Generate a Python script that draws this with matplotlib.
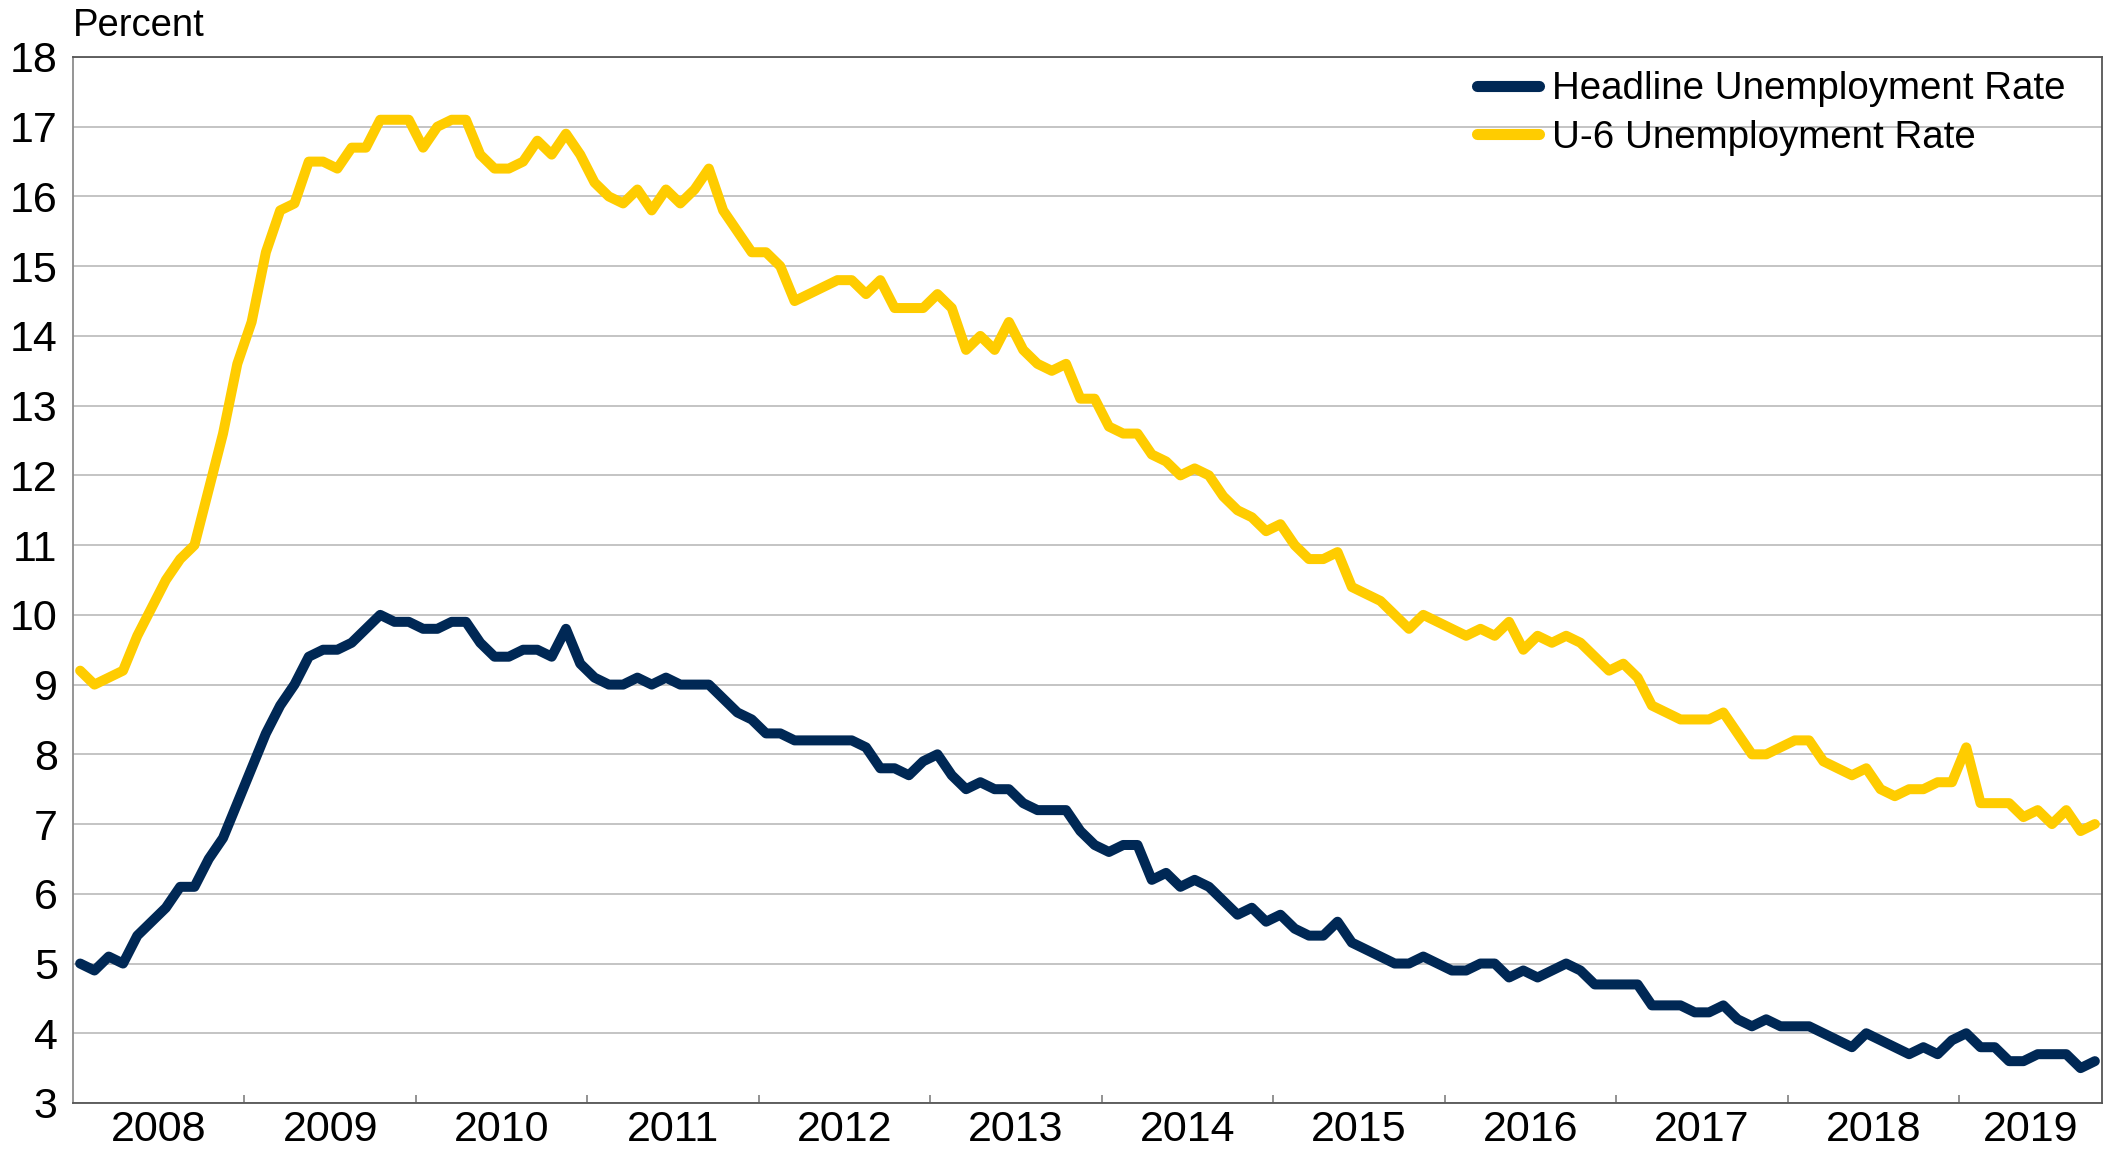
import numpy as np
import matplotlib.pyplot as plt

plt.rcParams['font.family'] = ['Liberation Sans', 'DejaVu Sans']

# Monthly rates, Jan 2008 - Oct 2019 (percent)
years = ['2008', '2009', '2010', '2011', '2012', '2013',
         '2014', '2015', '2016', '2017', '2018', '2019']

headline = [
    5.0, 4.9, 5.1, 5.0, 5.4, 5.6, 5.8, 6.1, 6.1, 6.5, 6.8, 7.3,   # 2008
    7.8, 8.3, 8.7, 9.0, 9.4, 9.5, 9.5, 9.6, 9.8, 10.0, 9.9, 9.9,  # 2009
    9.8, 9.8, 9.9, 9.9, 9.6, 9.4, 9.4, 9.5, 9.5, 9.4, 9.8, 9.3,   # 2010
    9.1, 9.0, 9.0, 9.1, 9.0, 9.1, 9.0, 9.0, 9.0, 8.8, 8.6, 8.5,   # 2011
    8.3, 8.3, 8.2, 8.2, 8.2, 8.2, 8.2, 8.1, 7.8, 7.8, 7.7, 7.9,   # 2012
    8.0, 7.7, 7.5, 7.6, 7.5, 7.5, 7.3, 7.2, 7.2, 7.2, 6.9, 6.7,   # 2013
    6.6, 6.7, 6.7, 6.2, 6.3, 6.1, 6.2, 6.1, 5.9, 5.7, 5.8, 5.6,   # 2014
    5.7, 5.5, 5.4, 5.4, 5.6, 5.3, 5.2, 5.1, 5.0, 5.0, 5.1, 5.0,   # 2015
    4.9, 4.9, 5.0, 5.0, 4.8, 4.9, 4.8, 4.9, 5.0, 4.9, 4.7, 4.7,   # 2016
    4.7, 4.7, 4.4, 4.4, 4.4, 4.3, 4.3, 4.4, 4.2, 4.1, 4.2, 4.1,   # 2017
    4.1, 4.1, 4.0, 3.9, 3.8, 4.0, 3.9, 3.8, 3.7, 3.8, 3.7, 3.9,   # 2018
    4.0, 3.8, 3.8, 3.6, 3.6, 3.7, 3.7, 3.7, 3.5, 3.6,             # 2019
]

u6 = [
    9.2, 9.0, 9.1, 9.2, 9.7, 10.1, 10.5, 10.8, 11.0, 11.8, 12.6, 13.6,     # 2008
    14.2, 15.2, 15.8, 15.9, 16.5, 16.5, 16.4, 16.7, 16.7, 17.1, 17.1, 17.1,  # 2009
    16.7, 17.0, 17.1, 17.1, 16.6, 16.4, 16.4, 16.5, 16.8, 16.6, 16.9, 16.6,  # 2010
    16.2, 16.0, 15.9, 16.1, 15.8, 16.1, 15.9, 16.1, 16.4, 15.8, 15.5, 15.2,  # 2011
    15.2, 15.0, 14.5, 14.6, 14.7, 14.8, 14.8, 14.6, 14.8, 14.4, 14.4, 14.4,  # 2012
    14.6, 14.4, 13.8, 14.0, 13.8, 14.2, 13.8, 13.6, 13.5, 13.6, 13.1, 13.1,  # 2013
    12.7, 12.6, 12.6, 12.3, 12.2, 12.0, 12.1, 12.0, 11.7, 11.5, 11.4, 11.2,  # 2014
    11.3, 11.0, 10.8, 10.8, 10.9, 10.4, 10.3, 10.2, 10.0, 9.8, 10.0, 9.9,    # 2015
    9.8, 9.7, 9.8, 9.7, 9.9, 9.5, 9.7, 9.6, 9.7, 9.6, 9.4, 9.2,              # 2016
    9.3, 9.1, 8.7, 8.6, 8.5, 8.5, 8.5, 8.6, 8.3, 8.0, 8.0, 8.1,              # 2017
    8.2, 8.2, 7.9, 7.8, 7.7, 7.8, 7.5, 7.4, 7.5, 7.5, 7.6, 7.6,              # 2018
    8.1, 7.3, 7.3, 7.3, 7.1, 7.2, 7.0, 7.2, 6.9, 7.0,                        # 2019
]

NAVY = '#002855'
GOLD = '#FFCC00'

W, H = 2106, 1151
fig = plt.figure(figsize=(W / 100, H / 100), dpi=100)
left, right, top, bottom = 73, 2102, 57, 1103
ax = fig.add_axes([left / W, 1 - bottom / H, (right - left) / W, (bottom - top) / H])

n = len(headline)
x = np.arange(n)
ax.plot(x, headline, color=NAVY, lw=7.2, solid_joinstyle='round',
        solid_capstyle='round', label='Headline Unemployment Rate', zorder=3)
ax.plot(x, u6, color=GOLD, lw=7.2, solid_joinstyle='round',
        solid_capstyle='round', label='U-6 Unemployment Rate', zorder=3)

ax.set_xlim(-0.5, n - 0.5)
ax.set_ylim(3, 18)
ax.set_yticks(np.arange(3, 19))
ax.yaxis.grid(True, color='#bfbfbf', lw=1.3)
ax.set_axisbelow(True)

# year labels centred on each year's months, tick marks on year boundaries
centers = [(12 * k + min(12 * k + 11, n - 1)) / 2 for k in range(len(years))]
ax.set_xticks(centers)
ax.set_xticklabels(years)
ax.set_xticks([12 * k - 0.5 for k in range(1, len(years))], minor=True)
ax.tick_params(axis='x', which='major', length=0, pad=5, labelsize=31)
ax.tick_params(axis='x', which='minor', direction='in', length=6, width=1.2,
               color='#808080')
ax.tick_params(axis='y', length=0, pad=11, labelsize=31)

for side in ['top', 'right', 'bottom']:
    ax.spines[side].set_color('#555555')
    ax.spines[side].set_linewidth(1.3)
ax.spines['left'].set_color('#8c8c8c')
ax.spines['left'].set_linewidth(1.3)

fig.text(left / W, 1 - 36 / H, 'Percent', fontsize=27.5, ha='left', va='baseline')

leg = ax.legend(loc='upper left', bbox_to_anchor=(1477 / W, 1 - 71 / H),
                bbox_transform=fig.transFigure, frameon=False, fontsize=27.7,
                handlelength=1.6, handletextpad=0.35, labelspacing=0.33,
                borderpad=0, borderaxespad=0)
for line in leg.get_lines():
    line.set_linewidth(8)
    line.set_solid_capstyle('round')

fig.savefig('out.png', dpi=100)
